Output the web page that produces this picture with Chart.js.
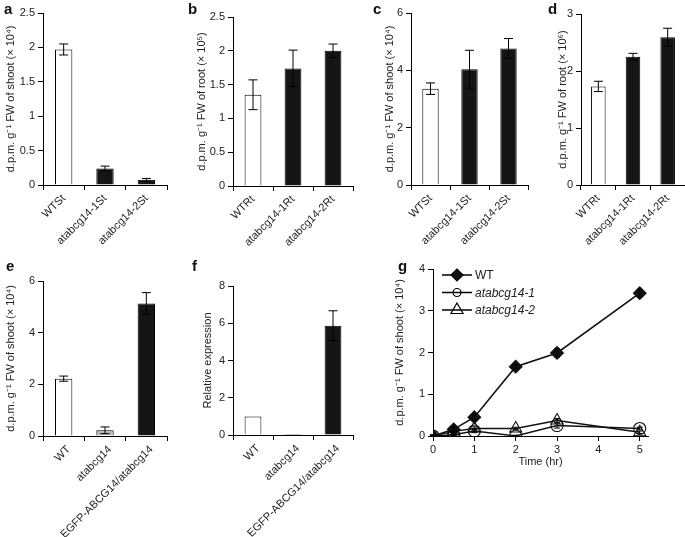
<!DOCTYPE html>
<html>
<head>
<meta charset="utf-8">
<script src="https://cdn.jsdelivr.net/npm/chart.js@4.4.0/dist/chart.umd.min.js"></script>
<style>
  body { margin: 0; background: #fff; }
  #wrap { position: relative; width: 685px; height: 537px; overflow: hidden; }
  canvas { position: absolute; }
</style>
</head>
<body>
<div id="wrap">
  <canvas id="pa" width="172" height="268" style="left:0px;top:0px"></canvas>
  <canvas id="pb" width="176" height="268" style="left:180px;top:0px"></canvas>
  <canvas id="pc" width="172" height="268" style="left:360px;top:0px"></canvas>
  <canvas id="pd" width="145" height="268" style="left:540px;top:0px"></canvas>
  <canvas id="pe" width="172" height="282" style="left:0px;top:255px"></canvas>
  <canvas id="pf" width="176" height="282" style="left:180px;top:255px"></canvas>
  <canvas id="pg" width="305" height="230" style="left:380px;top:255px"></canvas>
</div>
<script>
// ---- data ----
var shootLabels = ['WTSt', 'atabcg14-1St', 'atabcg14-2St'];
var rootLabels = ['WTRt', 'atabcg14-1Rt', 'atabcg14-2Rt'];
var complLabels = ['WT', 'atabcg14', 'EGFP-ABCG14/atabcg14'];

var aValues = [1.97, 0.24, 0.075];
var aErrors = [0.08, 0.035, 0.02];
var bValues = [1.35, 1.74, 2.0];
var bErrors = [0.22, 0.27, 0.1];
var cValues = [3.36, 4.04, 4.76];
var cErrors = [0.2, 0.66, 0.35];
var dValues = [1.73, 2.25, 2.59];
var dErrors = [0.09, 0.06, 0.16];
var eValues = [2.22, 0.22, 5.13];
var eErrors = [0.1, 0.13, 0.42];
var fValues = [1.0, 0.05, 5.87];
var fErrors = [0, 0, 0.8];

var timeHr = [0, 0.5, 1, 2, 3, 5];
var timeTicks = [0, 1, 2, 3, 4, 5];
var wtSeries = [0, 0.16, 0.45, 1.66, 1.99, 3.42];
var wtErrors = [0.03, 0.05, 0.07, 0.05, 0.1, 0.09];
var mut1Series = [0, 0.03, 0.12, 0.0, 0.25, 0.18];
var mut1Errors = [0.02, 0.02, 0.04, 0.02, 0.06, 0.03];
var mut2Series = [0, 0.11, 0.18, 0.18, 0.37, 0.09];
var mut2Errors = [0.02, 0.03, 0.04, 0.03, 0.05, 0.03];

var FONT = 'Liberation Sans, Arial, sans-serif';
Chart.defaults.font.family = FONT;
Chart.defaults.font.size = 11;
Chart.defaults.color = '#222';

function plainNum(v) { return String(Math.round(v * 100) / 100); }

// error bars through the chart's own scales
var errorBars = {
  id: 'errorBars',
  afterDatasetsDraw: function(chart) {
    var ctx = chart.ctx;
    var ys = chart.scales.y;
    chart.data.datasets.forEach(function(ds, di) {
      if (!ds.errors) return;
      var meta = chart.getDatasetMeta(di);
      meta.data.forEach(function(el, i) {
        var e = ds.errors[i];
        if (!e) return;
        var v = ds.data[i];
        if (typeof v === 'object') v = v.y;
        var top = ys.getPixelForValue(v + e);
        var bot = ys.getPixelForValue(Math.max(v - e, 0));
        var cap = ds.capWidth || 4.5;
        ctx.save();
        ctx.strokeStyle = '#000';
        ctx.lineWidth = 1;
        ctx.beginPath();
        ctx.moveTo(el.x, top); ctx.lineTo(el.x, bot);
        ctx.moveTo(el.x - cap, top); ctx.lineTo(el.x + cap, top);
        ctx.moveTo(el.x - cap, bot); ctx.lineTo(el.x + cap, bot);
        ctx.stroke();
        ctx.restore();
      });
    });
  }
};

// panel letter
var panelLetter = {
  id: 'panelLetter',
  afterDraw: function(chart, args, opts) {
    var ctx = chart.ctx;
    ctx.save();
    ctx.font = 'bold 15px ' + FONT;
    ctx.fillStyle = '#111';
    ctx.textBaseline = 'middle';
    ctx.fillText(opts.text, opts.x, opts.y);
    ctx.restore();
  }
};

function barPanel(id, o) {
  var fills = o.fills || ['#ffffff', '#151515', '#151515'];
  return new Chart(document.getElementById(id), {
    type: 'bar',
    data: {
      labels: o.labels,
      datasets: [{
        data: o.values,
        errors: o.errors,
        capWidth: 4.5,
        backgroundColor: fills,
        borderColor: '#000',
        borderWidth: 1,
        barPercentage: 0.42,
        categoryPercentage: 1
      }]
    },
    options: {
      responsive: false,
      animation: false,
      devicePixelRatio: 1,
      layout: { padding: { left: o.pad[0], top: o.pad[1], right: o.pad[2], bottom: 0 } },
      plugins: {
        legend: { display: false },
        tooltip: { enabled: false },
        panelLetter: { text: o.letter, x: o.lx, y: o.ly }
      },
      scales: {
        x: {
          grid: { drawOnChartArea: false, drawTicks: true, tickLength: 5, color: '#000', offset: true },
          border: { color: '#000' },
          ticks: { autoSkip: false, minRotation: 45, maxRotation: 45, padding: 2, labelOffset: o.lo || 0, color: '#222' },
          afterFit: function(s) { s.height = o.xh; }
        },
        y: {
          min: 0, max: o.ymax,
          grid: { drawOnChartArea: false, drawTicks: true, tickLength: 5, color: '#000' },
          border: { color: '#000' },
          ticks: { stepSize: o.ystep, padding: 3, color: '#222', callback: plainNum },
          title: { display: true, text: o.ytitle, color: '#222', padding: { top: 4, bottom: 4 } },
          afterFit: function(s) { s.width = o.yw; }
        }
      }
    },
    plugins: [errorBars, panelLetter]
  });
}

barPanel('pa', { labels: shootLabels, values: aValues, errors: aErrors, ymax: 2.5, ystep: 0.5,
  ytitle: 'd.p.m. g\u207B\u00B9 FW of shoot (\u00D7 10\u2074)', letter: 'a', lx: 4, ly: 10,
  pad: [0, 13, 5], yw: 43, xh: 83 });
barPanel('pb', { labels: rootLabels, values: bValues, errors: bErrors, ymax: 2.5, ystep: 0.5,
  ytitle: 'd.p.m. g\u207B\u00B9 FW of root (\u00D7 10\u2075)', letter: 'b', lx: 8, ly: 10,
  pad: [11, 17, 3], yw: 42, xh: 82 });
barPanel('pc', { labels: shootLabels, values: cValues, errors: cErrors, ymax: 6, ystep: 2,
  ytitle: 'd.p.m. g\u207B\u00B9 FW of shoot (\u00D7 10\u2074)', letter: 'c', lx: 13, ly: 10,
  pad: [19, 13, 4], yw: 32, xh: 83 });
barPanel('pd', { labels: rootLabels, values: dValues, errors: dErrors, ymax: 3, ystep: 1,
  ytitle: 'd.p.m. g\u207B\u00B9 FW of root (\u00D7 10\u2076)', letter: 'd', lx: 8, ly: 10,
  pad: [12, 14, 0], yw: 29, xh: 83 });
barPanel('pe', { labels: complLabels, values: eValues, errors: eErrors, ymax: 6, ystep: 2,
  fills: ['#ffffff', '#b8b8b8', '#151515'],
  ytitle: 'd.p.m. g\u207B\u00B9 FW of shoot (\u00D7 10\u2074)', letter: 'e', lx: 6, ly: 12,
  pad: [0, 26, 5], yw: 43, xh: 101, lo: 5 });
barPanel('pf', { labels: complLabels, values: fValues, errors: fErrors, ymax: 8, ystep: 2,
  ytitle: 'Relative expression', letter: 'f', lx: 12, ly: 12,
  pad: [17, 31, 3], yw: 36, xh: 102, lo: 5 });

// legend drawn inside the plot area of g
var insideLegend = {
  id: 'insideLegend',
  afterDraw: function(chart) {
    var ctx = chart.ctx;
    var ca = chart.chartArea;
    chart.data.datasets.forEach(function(ds, i) {
      var y = ca.top + 6 + i * 17.5;
      var x0 = ca.left + 9, x1 = ca.left + 39;
      ctx.save();
      ctx.strokeStyle = '#000';
      ctx.lineWidth = 1.5;
      ctx.beginPath(); ctx.moveTo(x0, y); ctx.lineTo(x1, y); ctx.stroke();
      ctx.fillStyle = ds.pointBackgroundColor;
      ctx.strokeStyle = '#000';
      ctx.lineWidth = 1.2;
      Chart.helpers.drawPoint(ctx, { pointStyle: ds.pointStyle, radius: ds.legendRadius, borderWidth: 1.2, rotation: 0 }, (x0 + x1) / 2, y);
      ctx.fillStyle = '#222';
      ctx.font = (ds.italic ? 'italic ' : '') + '12px ' + FONT;
      ctx.textBaseline = 'middle';
      ctx.fillText(ds.label, x1 + 3, y + 1);
      ctx.restore();
    });
  }
};

function xy(xs, ys) { return xs.map(function(x, i) { return { x: x, y: ys[i] }; }); }

new Chart(document.getElementById('pg'), {
  type: 'line',
  data: {
    datasets: [
      { label: 'WT', data: xy(timeHr, wtSeries), errors: wtErrors, capWidth: 3,
        borderColor: '#111', borderWidth: 1.6, pointStyle: 'rectRot', pointRadius: 6, legendRadius: 6,
        pointBackgroundColor: '#111', pointBorderColor: '#111', tension: 0 },
      { label: 'atabcg14-1', data: xy(timeHr, mut1Series), errors: mut1Errors, capWidth: 3, italic: true,
        borderColor: '#111', borderWidth: 1.4, pointStyle: 'circle', pointRadius: 6, legendRadius: 4,
        pointBackgroundColor: 'rgba(0,0,0,0)', pointBorderColor: '#111', pointBorderWidth: 1.1, tension: 0 },
      { label: 'atabcg14-2', data: xy(timeHr, mut2Series), errors: mut2Errors, capWidth: 3, italic: true,
        borderColor: '#111', borderWidth: 1.4, pointStyle: 'triangle', pointRadius: 7, legendRadius: 7,
        pointBackgroundColor: 'rgba(0,0,0,0)', pointBorderColor: '#111', pointBorderWidth: 1.1, tension: 0 }
    ]
  },
  options: {
    responsive: false,
    animation: false,
    devicePixelRatio: 1,
    layout: { padding: { left: 9, top: 14, right: 37, bottom: 12 } },
    plugins: {
      legend: { display: false },
      tooltip: { enabled: false },
      panelLetter: { text: 'g', x: 18, y: 12 }
    },
    scales: {
      x: {
        type: 'linear', min: 0, max: 5.2,
        grid: { drawOnChartArea: false, drawTicks: true, tickLength: 5, color: '#000' },
        border: { color: '#000' },
        ticks: { padding: 2, color: '#222', callback: plainNum },
        afterBuildTicks: function(s) { s.ticks = timeTicks.map(function(v) { return { value: v }; }); },
        title: { display: true, text: 'Time (hr)', color: '#222', padding: { top: 2, bottom: 4 } },
        afterFit: function(s) { s.height = 37; }
      },
      y: {
        min: 0, max: 4,
        grid: { drawOnChartArea: false, drawTicks: true, tickLength: 5, color: '#000' },
        border: { color: '#000' },
        ticks: { stepSize: 1, padding: 3, color: '#222', callback: plainNum },
        title: { display: true, text: 'd.p.m. g\u207B\u00B9 FW of shoot (\u00D7 10\u2074)', color: '#222', padding: { top: 4, bottom: 4 } },
        afterFit: function(s) { s.width = 44; }
      }
    }
  },
  plugins: [errorBars, insideLegend, panelLetter]
});
</script>
</body>
</html>
